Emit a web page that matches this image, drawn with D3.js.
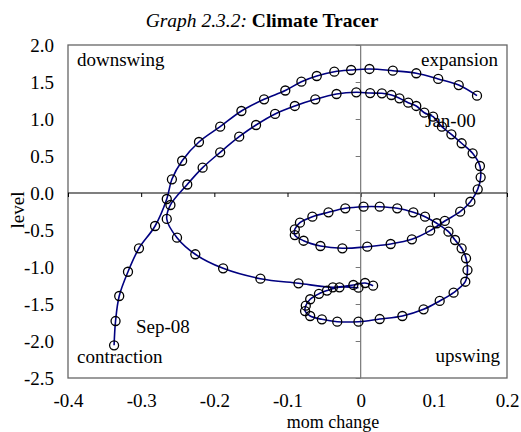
<!DOCTYPE html>
<html><head><meta charset="utf-8">
<script src="https://cdn.jsdelivr.net/npm/d3@7"></script>
<style>
html,body{margin:0;padding:0;background:#fff;}
svg{display:block;font-family:"Liberation Serif","Times New Roman",serif;}
</style></head>
<body>
<svg id="chart" width="521" height="432"></svg>
<script>
// ---- data ----
// first trace segment (spiral from the centre, round the inner loops and inner arc, back to the centre)
const seg1Mom = [-0.003,-0.029,-0.046,-0.057,-0.069,-0.075,-0.076,-0.069,-0.053,-0.032,-0.003,0.026,0.057,0.086,0.108,0.127,0.143,0.146,0.144,0.138,0.129,0.120,0.104,0.088,0.072,0.050,0.026,0.004,-0.021,-0.044,-0.066,-0.083,-0.090,-0.090,-0.078,-0.055,-0.025,0.009,0.041,0.070,0.095,0.115,0.136,0.150,0.160,0.164,0.163,0.153,0.138,0.124,0.111,0.099,0.087,0.076,0.065,0.053,0.042,0.029,0.013,-0.006,-0.033,-0.062,-0.090,-0.117,-0.143,-0.166,-0.192,-0.216,-0.237,-0.260,-0.265,-0.251,-0.226,-0.188,-0.137,-0.085,-0.038,-0.010,0.006,0.017];
const seg1Level = [-1.280,-1.274,-1.318,-1.362,-1.436,-1.523,-1.595,-1.662,-1.707,-1.739,-1.739,-1.703,-1.662,-1.572,-1.459,-1.347,-1.199,-1.041,-0.882,-0.747,-0.635,-0.523,-0.409,-0.320,-0.261,-0.207,-0.185,-0.185,-0.207,-0.261,-0.320,-0.401,-0.491,-0.568,-0.645,-0.716,-0.747,-0.726,-0.689,-0.626,-0.509,-0.378,-0.253,-0.118,0.050,0.212,0.365,0.536,0.672,0.793,0.896,1.031,1.085,1.176,1.220,1.280,1.324,1.347,1.351,1.361,1.338,1.266,1.176,1.068,0.919,0.761,0.550,0.342,0.115,-0.162,-0.351,-0.604,-0.828,-1.018,-1.158,-1.220,-1.274,-1.243,-1.216,-1.253];
// second trace segment (outer arc down to Sep-08)
const seg2Mom = [0.159,0.134,0.106,0.076,0.044,0.012,-0.013,-0.036,-0.060,-0.081,-0.103,-0.132,-0.163,-0.192,-0.221,-0.244,-0.258,-0.265,-0.281,-0.303,-0.318,-0.330,-0.335,-0.337];
const seg2Level = [1.315,1.459,1.541,1.618,1.653,1.676,1.662,1.639,1.581,1.504,1.385,1.266,1.108,0.896,0.689,0.436,0.185,-0.081,-0.446,-0.747,-1.064,-1.392,-1.730,-2.058];

const xTicks = [-0.4,-0.3,-0.2,-0.1,0,0.1,0.2];
const yTicks = [2.0,1.5,1.0,0.5,0.0,-0.5,-1.0,-1.5,-2.0,-2.5];
const quadrantLabels = ["downswing","expansion","contraction","upswing"];
const dateLabels = ["Jan-00","Sep-08"];
const titleItalic = "Graph 2.3.2:";
const titleBold = "Climate Tracer";
const xTitle = "mom change";
const yTitle = "level";

// ---- layout ----
const svg = d3.select("#chart");
const L = 68, R = 507, T = 45, B = 378;
const x = d3.scaleLinear().domain([-0.4,0.2]).range([L,R]);
const y = d3.scaleLinear().domain([-2.5,2.0]).range([B,T]);
const hy = s => String(s).replace("\u2212","-");
const fx = d => d === 0 ? "0" : hy(d3.format(".1f")(d));
const fy = d => hy(d3.format(".1f")(d));
const FS = 19;

// title
const title = svg.append("text").attr("x",262).attr("y",27).attr("text-anchor","middle").attr("font-size",19.5);
title.append("tspan").attr("font-style","italic").text(titleItalic + " ");
title.append("tspan").attr("font-weight","bold").text(titleBold);

// frame
svg.append("rect").attr("x",L).attr("y",T).attr("width",R-L).attr("height",B-T)
  .attr("fill","none").attr("stroke","#666").attr("stroke-width",1.3);

// zero axes with tick marks
const gx0 = svg.append("g").attr("transform",`translate(0,${y(0)})`)
  .call(d3.axisBottom(x).tickValues(xTicks).tickSize(4).tickFormat(""));
gx0.select(".domain").remove();
gx0.append("line").attr("x1",L).attr("x2",R).attr("stroke","#000").attr("stroke-width",1.2);
gx0.selectAll(".tick line").attr("stroke","#000");

const gy0 = svg.append("g").attr("transform",`translate(${x(0)},0)`)
  .call(d3.axisLeft(y).tickValues(yTicks).tickSize(5).tickFormat(""));
gy0.select(".domain").remove();
gy0.append("line").attr("y1",T).attr("y2",B).attr("stroke","#777").attr("stroke-width",1.2);
gy0.selectAll(".tick line").attr("stroke","#777");

// tick labels outside the frame
const gxl = svg.append("g").attr("transform",`translate(0,${B})`)
  .call(d3.axisBottom(x).tickValues(xTicks).tickSize(0).tickPadding(16).tickFormat(fx));
gxl.select(".domain").remove();
gxl.selectAll("text").attr("font-size",FS).attr("font-family","Liberation Serif").attr("fill","#000");

const gyl = svg.append("g").attr("transform",`translate(${L},0)`)
  .call(d3.axisLeft(y).tickValues(yTicks).tickSize(0).tickPadding(14).tickFormat(fy));
gyl.select(".domain").remove();
gyl.selectAll("text").attr("font-size",FS).attr("font-family","Liberation Serif").attr("fill","#000");

// axis titles
svg.append("text").attr("x",333).attr("y",428).attr("text-anchor","middle").attr("font-size",18).text(xTitle);
svg.append("text").attr("transform","translate(24,210) rotate(-90)").attr("text-anchor","middle").attr("font-size",FS).text(yTitle);

// quadrant labels
svg.append("text").attr("x",77).attr("y",66).attr("font-size",FS).text(quadrantLabels[0]);
svg.append("text").attr("x",498).attr("y",66).attr("text-anchor","end").attr("font-size",FS).text(quadrantLabels[1]);
svg.append("text").attr("x",77).attr("y",363).attr("font-size",FS).text(quadrantLabels[2]);
svg.append("text").attr("x",500).attr("y",362).attr("text-anchor","end").attr("font-size",FS).text(quadrantLabels[3]);

// lines + markers
const line = d3.line().x(d=>x(d[0])).y(d=>y(d[1])).curve(d3.curveCatmullRom.alpha(0.5));
const segs = [d3.zip(seg1Mom,seg1Level), d3.zip(seg2Mom,seg2Level)];
segs.forEach(s=>{
  svg.append("path").datum(s).attr("d",line).attr("fill","none").attr("stroke","#000080").attr("stroke-width",1.6);
});
segs.forEach(s=>{
  svg.append("g").selectAll("circle").data(s).join("circle")
    .attr("cx",d=>x(d[0])).attr("cy",d=>y(d[1])).attr("r",4.5)
    .attr("fill","none").attr("stroke","#000").attr("stroke-width",1.3);
});

// date labels
svg.append("text").attr("x",425).attr("y",127).attr("font-size",FS).text(dateLabels[0]);
svg.append("text").attr("x",136).attr("y",333).attr("font-size",FS).text(dateLabels[1]);
</script>
</body></html>
